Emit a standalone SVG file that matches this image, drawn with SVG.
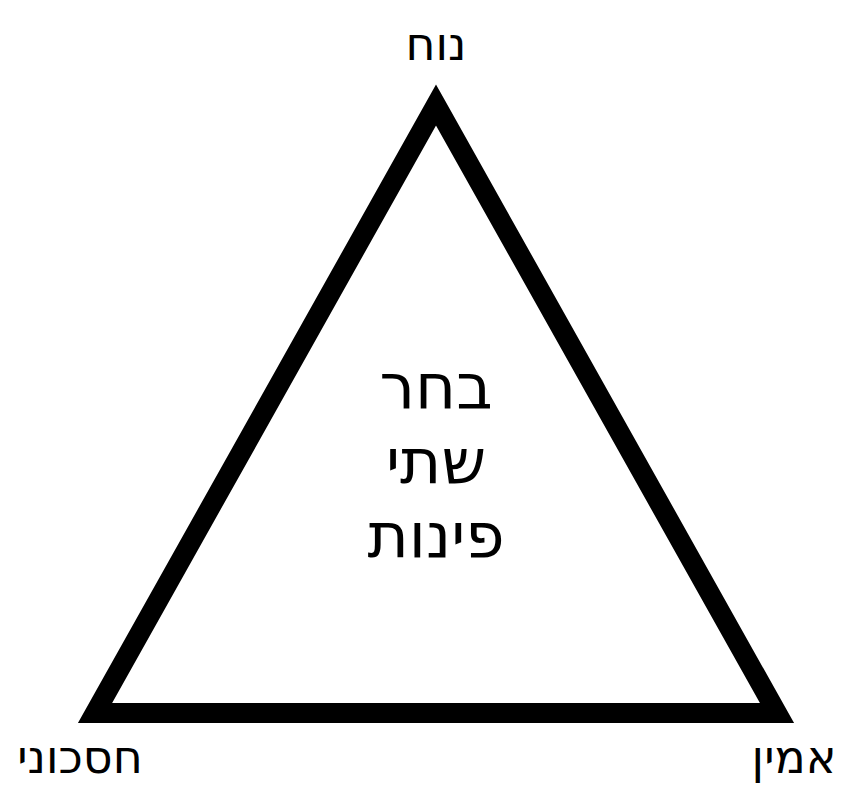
<svg xmlns="http://www.w3.org/2000/svg" width="868" height="798" viewBox="0 0 868 798">
<style>
.lbl{font-family:"DejaVu Sans","Noto Sans",sans-serif;fill:#000;text-anchor:middle}
.corner{font-size:46px}
.center{font-size:63px}
.tri{fill:none;stroke:#000;stroke-width:20;stroke-linejoin:miter;stroke-miterlimit:10}
</style>
<rect width="868" height="798" fill="#fff"/>
<g id="connectors">
<path class="tri" d="M436,105 L777,713 L95,713 Z"/>
</g>
<g id="node-top"><text class="lbl corner" x="436" y="60">נוח</text></g>
<g id="node-left"><text class="lbl corner" x="80" y="773">חסכוני</text></g>
<g id="node-right"><text class="lbl corner" x="794" y="773">אמין</text></g>
<g id="node-center">
<text class="lbl center" x="436" y="408">בחר</text>
<text class="lbl center" x="436" y="483">שתי</text>
<text class="lbl center" x="436" y="557">פינות</text>
</g>
</svg>
